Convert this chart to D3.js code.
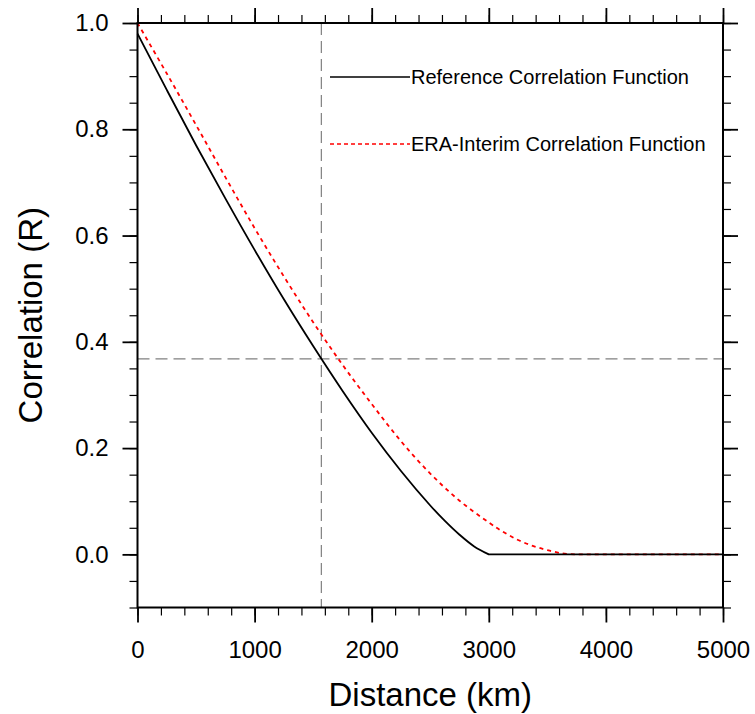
<!DOCTYPE html>
<html>
<head>
<meta charset="utf-8">
<script src="https://cdn.jsdelivr.net/npm/d3@7"></script>
<style>
  body { margin: 0; background: #fff; }
  svg { font-family: "Liberation Sans", Arial, sans-serif; }
</style>
</head>
<body>
<div id="chart"></div>
<script>
"use strict";

// distances (km) and correlations
var refDist = [0, 250, 500, 750, 1000, 1250, 1500, 1750, 2000, 2250, 2500, 2625, 2750, 2875, 3000, 5000];
var refCorr = [0.98, 0.874, 0.770, 0.670, 0.573, 0.480, 0.392, 0.308, 0.229, 0.157, 0.092, 0.063, 0.037, 0.015, 0, 0];

var eraDist = [0, 250, 500, 750, 1000, 1250, 1500, 1750, 2000, 2250, 2500, 2750, 3000, 3125, 3250, 3375, 3500, 3625, 3750, 5000];
var eraCorr = [1.0, 0.905, 0.808, 0.710, 0.614, 0.523, 0.437, 0.357, 0.283, 0.213, 0.152, 0.101, 0.060, 0.042, 0.027, 0.016, 0.008, 0.002, 0, 0];

// e-folding markers
var efoldDist = 1570;
var efoldCorr = 0.368;

var seriesNames = ["Reference Correlation Function", "ERA-Interim Correlation Function"];

var xTicks = [0, 1000, 2000, 3000, 4000, 5000];
var yTicks = [0.0, 0.2, 0.4, 0.6, 0.8, 1.0];

var width = 755, height = 714;
var margin = {left: 137.5, right: 32, top: 23, bottom: 106.5};

var svg = d3.select("#chart").append("svg")
    .attr("width", width)
    .attr("height", height);

var x = d3.scaleLinear().domain([0, 5000]).range([margin.left, width - margin.right]);
var y = d3.scaleLinear().domain([-0.1, 1.0]).range([height - margin.bottom, margin.top]);

var xMinor = d3.range(0, 5001, 200);
var yMinor = d3.range(-0.1, 1.0001, 0.05);

//------------- reference lines (below curves)
svg.append("line")
    .attr("x1", x(efoldDist)).attr("x2", x(efoldDist))
    .attr("y1", y(1.0)).attr("y2", y(-0.1))
    .attr("stroke", "#808080").attr("stroke-width", 1.2)
    .attr("stroke-dasharray", "12,6");

svg.append("line")
    .attr("x1", x(0)).attr("x2", x(5000))
    .attr("y1", y(efoldCorr)).attr("y2", y(efoldCorr))
    .attr("stroke", "#808080").attr("stroke-width", 1.2)
    .attr("stroke-dasharray", "12,6");

//------------- curves
// smooth part goes through the decreasing points, the flat tail is straight
function curvePath(dist, corr) {
    var pts = d3.zip(dist, corr);
    var k = pts.findIndex(function(p) { return p[1] === 0; });
    var smooth = d3.line()
        .x(function(d) { return x(d[0]); })
        .y(function(d) { return y(d[1]); })
        .curve(d3.curveCatmullRom.alpha(0.5));
    var flat = d3.line()
        .x(function(d) { return x(d[0]); })
        .y(function(d) { return y(d[1]); });
    return smooth(pts.slice(0, k + 1)) + flat(pts.slice(k)).replace(/^M/, "L");
}

svg.append("path")
    .attr("d", curvePath(eraDist, eraCorr))
    .attr("fill", "none")
    .attr("stroke", "#ff0000")
    .attr("stroke-width", 1.8)
    .attr("stroke-dasharray", "4,4");

svg.append("path")
    .attr("d", curvePath(refDist, refCorr))
    .attr("fill", "none")
    .attr("stroke", "#000")
    .attr("stroke-width", 1.8);

//------------- axes: outward ticks on all four sides
function drawAxis(axisGen, tr, minorVals, majorVals, labels, pad) {
    var g = svg.append("g").attr("transform", tr);
    g.call(axisGen.tickValues(minorVals).tickSize(8).tickFormat(""));
    g.selectAll(".tick line").attr("stroke-width", 1.2);
    g.select(".domain").remove();
    var g2 = svg.append("g").attr("transform", tr);
    g2.call(axisGen.tickValues(majorVals).tickSize(15).tickPadding(pad)
        .tickFormat(labels ? labels : ""));
    g2.selectAll(".tick line").attr("stroke-width", 1.8);
    g2.select(".domain").remove();
    g2.selectAll("text").attr("font-size", 24).attr("fill", "#000")
        .attr("font-family", "Liberation Sans, Arial, sans-serif");
    return g2;
}

drawAxis(d3.axisBottom(x), "translate(0," + y(-0.1) + ")", xMinor, xTicks, d3.format("d"), 18);
drawAxis(d3.axisTop(x), "translate(0," + y(1.0) + ")", xMinor, xTicks, null, 3);
drawAxis(d3.axisLeft(y), "translate(" + x(0) + ",0)", yMinor, yTicks, d3.format(".1f"), 14);
drawAxis(d3.axisRight(y), "translate(" + x(5000) + ",0)", yMinor, yTicks, null, 3);

// frame
svg.append("rect")
    .attr("x", x(0)).attr("y", y(1.0))
    .attr("width", x(5000) - x(0)).attr("height", y(-0.1) - y(1.0))
    .attr("fill", "none").attr("stroke", "#000").attr("stroke-width", 2);

//------------- axis titles
svg.append("text")
    .attr("x", (x(0) + x(5000)) / 2).attr("y", 706)
    .attr("text-anchor", "middle")
    .attr("font-size", 33)
    .text("Distance (km)");

svg.append("text")
    .attr("transform", "translate(42," + (y(-0.1) + y(1.0)) / 2 + ") rotate(-90)")
    .attr("text-anchor", "middle")
    .attr("font-size", 33)
    .text("Correlation (R)");

//------------- legend
var legend = svg.append("g");
var legendY = [77, 144];
var legendStyle = [{color: "#000", dash: null}, {color: "#ff0000", dash: "4,3"}];
seriesNames.forEach(function(name, i) {
    legend.append("line")
        .attr("x1", 330).attr("x2", 410)
        .attr("y1", legendY[i]).attr("y2", legendY[i])
        .attr("stroke", legendStyle[i].color)
        .attr("stroke-width", 1.5)
        .attr("stroke-dasharray", legendStyle[i].dash);
    legend.append("text")
        .attr("x", 411).attr("y", legendY[i] + 7)
        .attr("font-size", 20)
        .text(name);
});
</script>
</body>
</html>
